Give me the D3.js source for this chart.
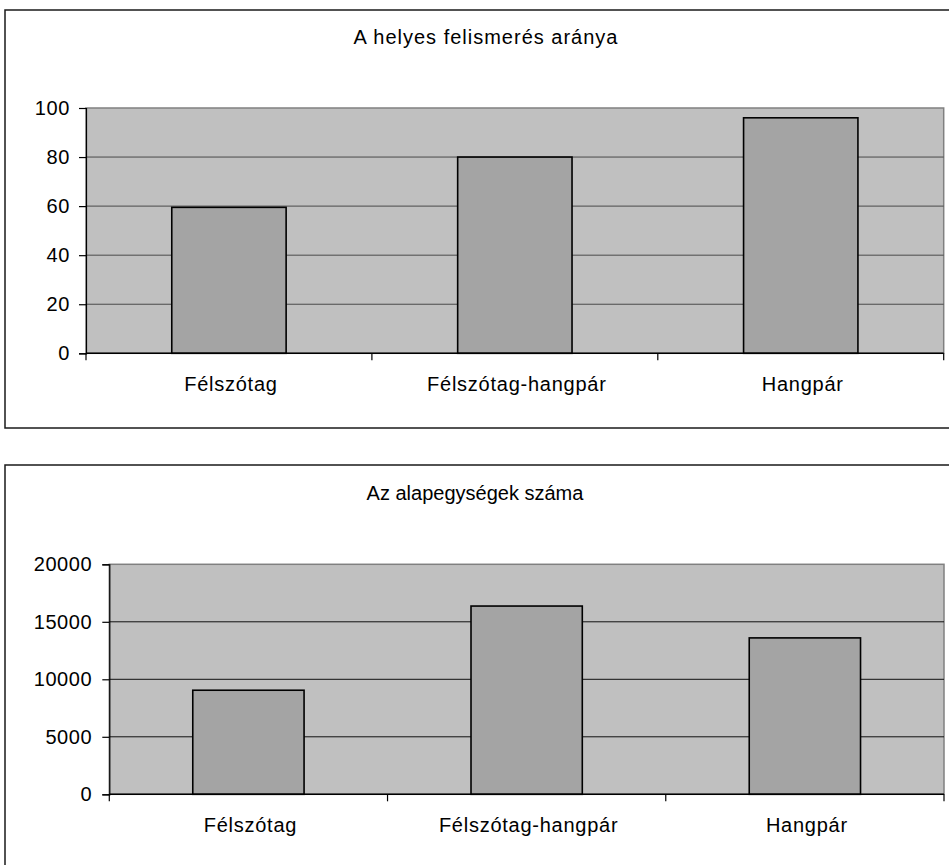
<!DOCTYPE html>
<html>
<head>
<meta charset="utf-8">
<script src="https://cdn.jsdelivr.net/npm/d3@7"></script>
<style>
  html, body { margin: 0; padding: 0; background: #fff; }
  svg { display: block; }
  text { font-family: "Liberation Sans", Arial, sans-serif; fill: #000; }
</style>
</head>
<body>
<svg id="chart" width="949" height="865"></svg>
<script>
// Categories shared by both panels
const categories = ["Félszótag", "Félszótag-hangpár", "Hangpár"];

// Panel 1: rate of correct recognition (%)
const recognitionTitle = "A helyes felismerés aránya";
const recognitionRate = [59.5, 80, 96];
const recognitionTicks = [0, 20, 40, 60, 80, 100];

// Panel 2: number of basic units
const unitTitle = "Az alapegységek száma";
const unitCounts = [9050, 16370, 13600];
const unitTicks = [0, 5000, 10000, 15000, 20000];

const svg = d3.select("#chart");

function drawPanel(opt) {
  const g = svg.append("g");

  // outer frame
  g.append("rect")
    .attr("x", opt.frame.x).attr("y", opt.frame.y)
    .attr("width", opt.frame.w).attr("height", opt.frame.h)
    .attr("fill", "#fff").attr("stroke", "#1a1a1a").attr("stroke-width", 1.5);

  // title
  g.append("text")
    .attr("x", opt.titleX).attr("y", opt.titleY)
    .attr("text-anchor", "middle")
    .style("font-size", "20px").style("letter-spacing", opt.titleSpacing)
    .text(opt.title);

  const x = d3.scaleBand().domain(categories)
    .range([opt.left, opt.right]).paddingInner(0.6).paddingOuter(0.3);
  const y = d3.scaleLinear().domain([0, d3.max(opt.ticks)])
    .range([opt.bottom, opt.top]);

  // plot area
  g.append("rect")
    .attr("x", opt.left).attr("y", opt.top)
    .attr("width", opt.right - opt.left).attr("height", opt.bottom - opt.top)
    .attr("fill", "#c0c0c0").attr("stroke", "#808080").attr("stroke-width", 1.5);

  // horizontal gridlines
  g.selectAll("line.grid").data(opt.ticks.filter(t => t > 0 && t < d3.max(opt.ticks)))
    .join("line").attr("class", "grid")
    .attr("x1", opt.left).attr("x2", opt.right)
    .attr("y1", d => y(d)).attr("y2", d => y(d))
    .attr("stroke", opt.gridColor).attr("stroke-width", 1);

  // bars
  g.selectAll("rect.bar").data(opt.values)
    .join("rect").attr("class", "bar")
    .attr("x", (d, i) => x(categories[i]))
    .attr("width", x.bandwidth())
    .attr("y", d => y(d))
    .attr("height", d => y(0) - y(d))
    .attr("fill", "#a4a4a4").attr("stroke", "#000").attr("stroke-width", 1.6);

  // value axis
  const yAxis = d3.axisLeft(y).tickValues(opt.ticks).tickSize(7).tickPadding(opt.tickPad)
    .tickFormat(d3.format("d"));
  const ya = g.append("g").attr("transform", `translate(${opt.left},0)`).call(yAxis);
  ya.select(".domain").attr("stroke", "#000").attr("stroke-width", 1.2);
  ya.selectAll(".tick line").attr("stroke", "#000").attr("stroke-width", 1.2);
  ya.selectAll(".tick text")
    .style("font-size", "20px").style("letter-spacing", "0.6px")
    .style("font-family", "'Liberation Sans', Arial, sans-serif").attr("fill", "#000");

  // category axis: baseline, boundary ticks, labels
  g.append("line")
    .attr("x1", opt.left).attr("x2", opt.right)
    .attr("y1", y(0)).attr("y2", y(0))
    .attr("stroke", "#000").attr("stroke-width", 1.4);
  const step = x.step();
  const start = x(categories[0]) - x.paddingOuter() * step;
  const boundaries = d3.range(categories.length + 1).map(i => start + i * step);
  g.selectAll("line.ctick").data(boundaries)
    .join("line").attr("class", "ctick")
    .attr("x1", d => d).attr("x2", d => d)
    .attr("y1", y(0)).attr("y2", y(0) + 7)
    .attr("stroke", "#000").attr("stroke-width", 1.2);
  g.selectAll("text.clabel").data(categories)
    .join("text").attr("class", "clabel")
    .attr("x", d => x(d) + x.bandwidth() / 2 + 2)
    .attr("y", y(0) + opt.labelDy)
    .attr("text-anchor", "middle")
    .style("font-size", "20px").style("letter-spacing", "0.75px")
    .text(d => d);
}

drawPanel({
  frame: { x: 5, y: 10, w: 960, h: 418 },
  title: recognitionTitle, titleX: 486, titleY: 44, titleSpacing: "1px",
  left: 86, right: 943.7, top: 108, bottom: 353.3,
  values: recognitionRate, ticks: recognitionTicks,
  gridColor: "#4a4a4a", tickPad: 9, labelDy: 38
});

drawPanel({
  frame: { x: 5, y: 465, w: 960, h: 420 },
  title: unitTitle, titleX: 475, titleY: 500, titleSpacing: "0px",
  left: 109.3, right: 944, top: 564.3, bottom: 794.3,
  values: unitCounts, ticks: unitTicks,
  gridColor: "#111", tickPad: 10, labelDy: 38
});
</script>
</body>
</html>
